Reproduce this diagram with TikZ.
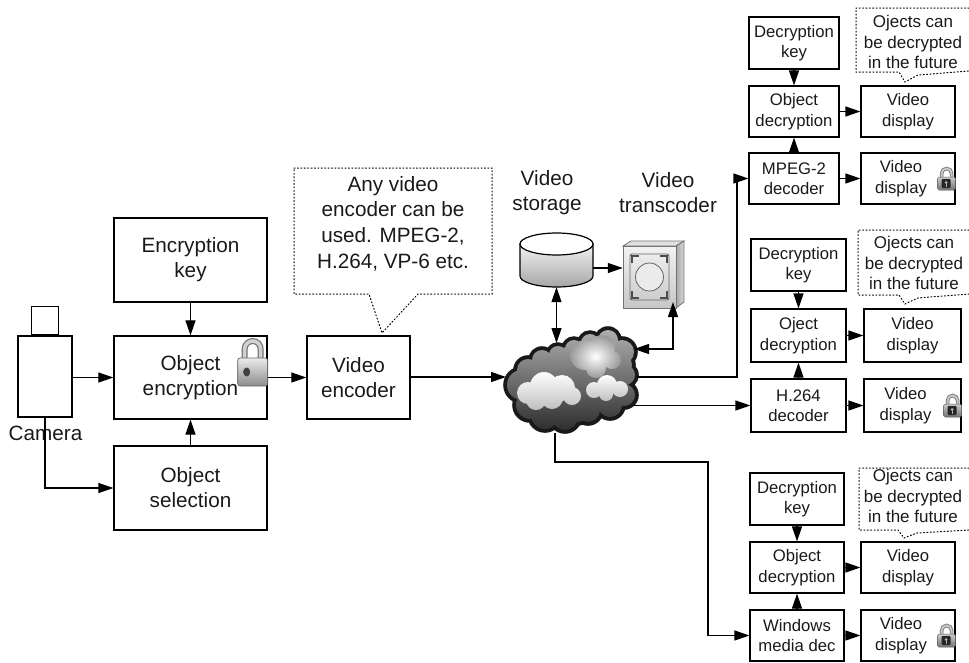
\documentclass[tikz,border=0pt]{standalone}
\usepackage{fontspec}
\setmainfont{Liberation Sans}
\usetikzlibrary{arrows.meta}
\newcommand\diagbig{\fontsize{20.7}{25}\selectfont}
\newcommand\diagbigc{\fontsize{20.7}{25.7}\selectfont}
\newcommand\diagsmall{\fontsize{16.7}{20.5}\selectfont}
\newcommand\diagnote{\fontsize{17}{20.7}\selectfont}
% circles whose union forms the network cloud: x/y/radius
\newcommand\cloudparts{570/385/38, 600/375/25, 605/360/18, 522/385/15, 530/405/14,
  545/415/14, 565/417/13, 588/410/12, 610/405/12, 624/395/11, 625/375/10,
  620/365/12, 622/352/12, 608/340/10, 590/343/9, 574/349/9, 558/355/9,
  542/360/10, 528/370/11}
\begin{document}
\begin{tikzpicture}[x=1pt,y=-1pt,
  every node/.style={text=black!90},
  box/.style={draw, line width=1.3pt, align=center, inner sep=0pt, font=\diagbig},
  sbox/.style={draw, line width=1.2pt, align=center, inner sep=0pt, font=\diagsmall},
  arr/.style={line width=1.2pt, -{Triangle[length=15pt,width=10pt]}},
  dblarr/.style={line width=1.2pt, {Triangle[length=15pt,width=10pt]}-{Triangle[length=15pt,width=10pt]}},
  note/.style={line width=1pt, dash pattern=on 1.1pt off 2.3pt, line cap=round},
  lockclosed/.pic={
    \begin{scope}[yscale=-1]
      \draw[line width=6pt, black!55] (-8,12) -- (-8,23) arc[start angle=180,end angle=0,radius=8] -- (8,12);
      \draw[line width=3.6pt, black!18] (-8,12) -- (-8,23) arc[start angle=180,end angle=0,radius=8] -- (8,12);
      \shade[top color=black!8, bottom color=black!45, draw=black!60, line width=0.7pt, rounded corners=2.5pt] (-15,-14) rectangle (15,14);
      \fill[black!75] (-6,0) ellipse[x radius=3.5, y radius=4.5];
    \end{scope}
  },
  lockopen/.pic={
    \begin{scope}[yscale=-1]
      \draw[line width=3.6pt, black!55] (-5,5) -- (-5,10) arc[start angle=180,end angle=0,radius=5] -- (5,7);
      \draw[line width=2pt, black!22] (-5,5) -- (-5,10) arc[start angle=180,end angle=0,radius=5] -- (5,7);
      \shade[top color=black!20, bottom color=black!55, draw=black!65, line width=0.5pt, rounded corners=1.5pt] (-9,-6.5) rectangle (9,6.5);
      \fill[black!85, rounded corners=1pt] (-5,-4.5) rectangle (4,4.5);
      \fill[black!30] (-0.5,1) circle[radius=1.6];
      \fill[black!30] (-1.1,-3) rectangle (0.1,1);
    \end{scope}
  },
]
\useasboundingbox (0,0) rectangle (969,662);

% ---------- camera ----------
\node[draw, line width=1.3pt, minimum width=54pt, minimum height=81pt, inner sep=0pt] (cam) at (45,376.5) {};
\node[draw, line width=1.3pt, minimum width=27pt, minimum height=28pt, inner sep=0pt, anchor=south] (lens) at (cam.north) {};
\node[font=\diagbig] (camtext) at (45.5,433) {Camera};

% ---------- encoder side ----------
\node[box, minimum width=153pt, minimum height=84pt] (enckey) at (190.5,260) {Encryption\\key};
\node[box, minimum width=153pt, minimum height=83pt] (objenc) at (190.5,377.5) {Object\\encryption};
\node[box, minimum width=153pt, minimum height=84pt] (objsel) at (190.5,488) {Object\\selection};
\node[box, minimum width=103pt, minimum height=83pt] (venc) at (358.5,377.5) {Video\\encoder};

\draw[arr] (enckey.south) -- (objenc.north);
\draw[arr] (objsel.north) -- (objenc.south);
\draw[arr] (cam.east |- objenc.west) -- (objenc.west);
\draw[arr] (cam.south) |- (objsel.west);
\draw[arr] (objenc.east) -- (venc.west);
\pic at ([xshift=-15pt,yshift=5.5pt]objenc.east) {lockclosed};

% note on the encoder
\draw[note] (294,168) -- (492,168) -- (492,294) -- (418,294) -- (382,333) -- (369,294) -- (294,294) -- cycle;
\node[font=\diagbigc, align=center] (encnote) at (393,223.5) {Any video\\encoder can be\\used. MPEG-2,\\H.264, VP-6 etc.};

% ---------- network cloud ----------
\fill[black!90] foreach \x/\y/\r in \cloudparts {(\x,\y) circle[radius=\r+3.8]};
\shade[top color=black!32, bottom color=black!82] foreach \x/\y/\r in \cloudparts {(\x,\y) circle[radius=\r]};
\shade[inner color=white, outer color=black!40] foreach \x/\y/\r in {585/355/15, 602/348/13, 596/368/10, 612/360/9} {(\x,\y) circle[radius=\r]};
\shade[top color=white, bottom color=black!25] foreach \x/\y/\r in {528/393/11, 544/386/14, 562/388/13, 552/398/11, 536/400/10, 572/396/9} {(\x,\y) circle[radius=\r]};
\shade[top color=white, bottom color=black!25] foreach \x/\y/\r in {594/390/8, 607/385/10, 620/389/8, 606/394/7} {(\x,\y) circle[radius=\r]};

\coordinate (cl-in) at (506,377);
\coordinate (cl-top) at (556.5,343);
\coordinate (cl-tr) at (634,349);
\coordinate (cl-a) at (637,377);
\coordinate (cl-b) at (633,405.5);
\coordinate (cl-c) at (555,433);

\draw[arr] (venc.east |- cl-in) -- (cl-in);

% ---------- storage ----------
\node[minimum width=73pt, minimum height=54pt, inner sep=0pt] (store) at (556.5,260) {};
\shade[top color=black!5, bottom color=black!35, draw=black, line width=1.2pt]
  (520,244) -- (520,276) arc[start angle=180, end angle=0, x radius=36.5, y radius=11] -- (593,244) -- cycle;
\filldraw[fill=white, line width=1.2pt] (556.5,244) ellipse[x radius=36.5, y radius=11];
\node[font=\diagbig, align=center] (storetxt) at (547,193) {Video\\storage};

% ---------- transcoder ----------
\node[minimum width=61pt, minimum height=67pt, inner sep=0pt] (trans) at (653.5,274.5) {};
\filldraw[fill=black!12, draw=black!55, line width=0.8pt] (623,246) -- (631,241) -- (684,241) -- (676,246) -- cycle;
\shade[left color=black!35, right color=black!15, draw=black!55, line width=0.8pt] (676,246) -- (684,241) -- (684,302) -- (676,308) -- cycle;
\shade[top color=black!5, bottom color=black!22, draw=black!55, line width=0.8pt] (623,246) rectangle (676,308);
\draw[black!60, line width=0.8pt, rounded corners=2pt] (630,254) rectangle (669,300);
\filldraw[fill=black!8, draw=black!60, line width=0.8pt] (649.5,277) circle[radius=14];
\draw[black!70, line width=1.6pt] (632,263) -- (632,256) -- (639,256);
\draw[black!70, line width=1.6pt] (660,256) -- (667,256) -- (667,263);
\draw[black!70, line width=1.6pt] (632,291) -- (632,298) -- (639,298);
\draw[black!70, line width=1.6pt] (660,298) -- (667,298) -- (667,291);
\node[font=\diagbig, align=center] (transtxt) at (668,193) {Video\\transcoder};

\coordinate (s-out) at (593,268);
\draw[arr] (s-out) -- (s-out -| trans.west);
\draw[dblarr] (store.south) -- (cl-top);
\coordinate (t-out) at (673,302);
\draw[dblarr] (t-out) |- (cl-tr);

% ---------- receivers ----------
% MPEG-2 branch
\node[sbox, minimum width=90pt, minimum height=52pt] (k1) at (794,43) {Decryption\\key};
\node[sbox, minimum width=90pt, minimum height=51pt] (d1) at (794,111.5) {Object\\decryption};
\node[sbox, minimum width=90pt, minimum height=51pt] (c1) at (794,178.5) {MPEG-2\\decoder};
\node[sbox, minimum width=94pt, minimum height=51pt] (v1) at (908,111.5) {Video\\display};
\node[sbox, minimum width=94pt, minimum height=51pt] (w1) at (908,178.5) {};
\node[font=\diagsmall, align=center] (w1t) at ([xshift=-7pt]w1.center) {Video\\display};
\draw[note] (969,8) -- (856,8) -- (856,72) -- (899,72) -- (905,82) -- (918,75) -- (969,71);
\node[font=\diagnote, align=center] (n1) at (913,42) {Ojects can\\be decrypted\\in the future};

% H.264 branch
\node[sbox, minimum width=95pt, minimum height=52pt] (k2) at (798.5,265) {Decryption\\key};
\node[sbox, minimum width=95pt, minimum height=53pt] (d2) at (798.5,335.5) {Oject\\decryption};
\node[sbox, minimum width=95pt, minimum height=53pt] (c2) at (798.5,405.5) {H.264\\decoder};
\node[sbox, minimum width=97pt, minimum height=53pt] (v2) at (912.5,335.5) {Video\\display};
\node[sbox, minimum width=97pt, minimum height=53pt] (w2) at (912.5,405.5) {};
\node[font=\diagsmall, align=center] (w2t) at ([xshift=-7pt]w2.center) {Video\\display};
\draw[note] (969,230) -- (858,230) -- (858,295) -- (899,295) -- (905,304) -- (918,298) -- (969,294);
\node[font=\diagnote, align=center] (n2) at (914,263) {Ojects can\\be decrypted\\in the future};

% Windows media branch
\node[sbox, minimum width=94pt, minimum height=52pt] (k3) at (797,499) {Decryption\\key};
\node[sbox, minimum width=94pt, minimum height=51pt] (d3) at (797,567.5) {Object\\decryption};
\node[sbox, minimum width=94pt, minimum height=51pt] (c3) at (797,635.5) {Windows\\media dec};
\node[sbox, minimum width=94pt, minimum height=51pt] (v3) at (908,567.5) {Video\\display};
\node[sbox, minimum width=94pt, minimum height=51pt] (w3) at (908,635.5) {};
\node[font=\diagsmall, align=center] (w3t) at ([xshift=-7pt]w3.center) {Video\\display};
\draw[note] (969,468) -- (859,468) -- (859,530) -- (898,530) -- (904,538) -- (917,533) -- (969,530);
\node[font=\diagnote, align=center] (n3) at (913,496) {Ojects can\\be decrypted\\in the future};

\foreach \g in {1,2,3} {
  \draw[arr] (k\g.south) -- (d\g.north);
  \draw[arr] (c\g.north) -- (d\g.south);
  \draw[arr] (d\g.east) -- (v\g.west);
  \draw[arr] (c\g.east) -- (w\g.west);
  \pic at ([xshift=-9pt,yshift=-5pt]w\g.east) {lockopen};
}

% links from the cloud to the decoders
\coordinate (j1) at (737,377);
\draw[arr] (cl-a) -- (j1) |- (c1.west);
\draw[arr] (cl-b) -- (cl-b -| c2.west);
\coordinate (j2) at (708,462);
\draw[arr] (cl-c) |- (j2) |- (c3.west);
\end{tikzpicture}
\end{document}
